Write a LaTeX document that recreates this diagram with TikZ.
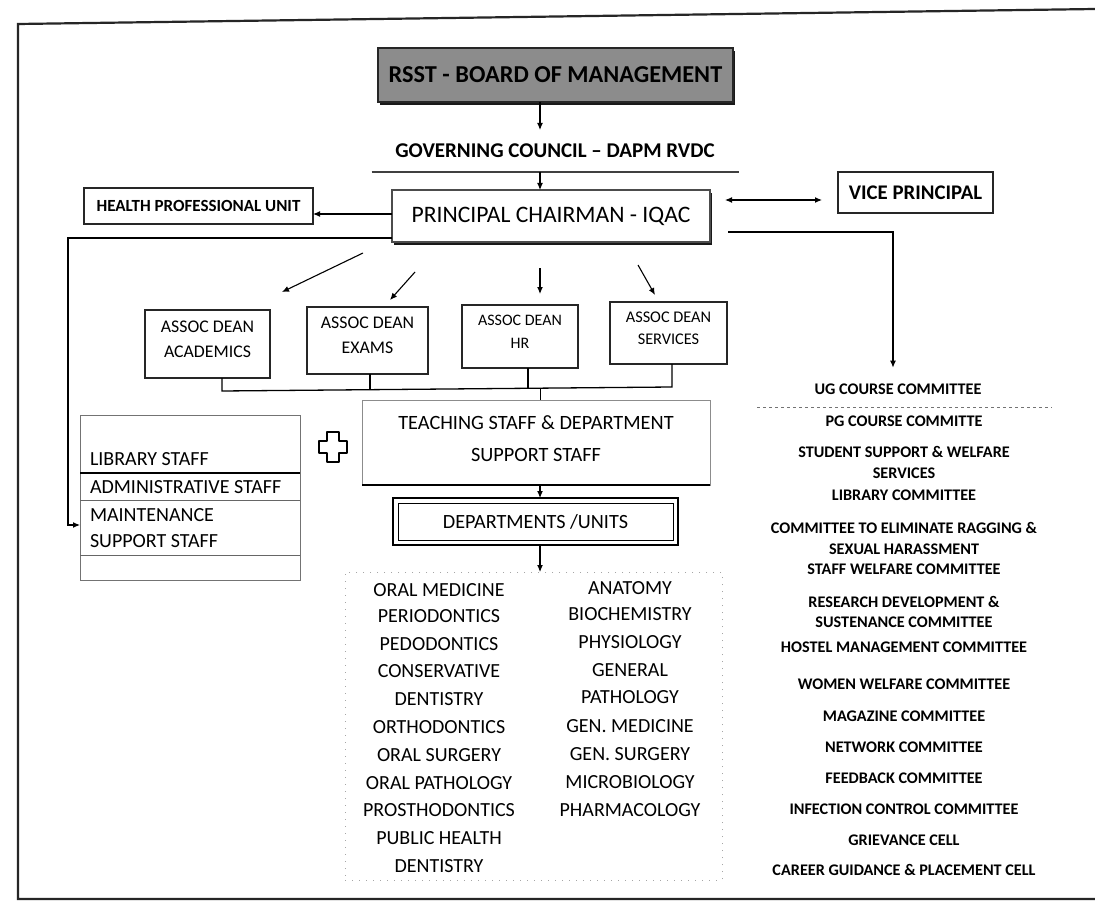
\documentclass[tikz,border=0pt]{standalone}
\usepackage{fontspec}
\setmainfont{Carlito}
\usetikzlibrary{arrows.meta,shadows,calc}
\begin{document}
\begin{tikzpicture}[x=1pt,y=-1pt,
  every node/.style={inner sep=0pt, outer sep=0pt},
  box/.style={draw=black!85, line width=1.3pt, align=center},
  arr/.style={-{Latex[length=7pt,width=6pt]}, line width=1.1pt},
  darr/.style={{Latex[length=7pt,width=6pt]}-{Latex[length=7pt,width=6pt]}, line width=1.1pt},
  busline/.style={line width=1.3pt},
  shad/.style={drop shadow={shadow xshift=2pt,shadow yshift=-3pt,fill=black!90,opacity=1}},
  dean/.style={box, fill=white, text depth=10pt, font=\fontsize{17.8}{25}\selectfont},
  deptitem/.style={font=\fontsize{20}{24}\selectfont},
  staffitem/.style={anchor=west, font=\fontsize{20}{24}\selectfont},
  comitem/.style={font=\bfseries\fontsize{16.2}{19}\selectfont},
]
\useasboundingbox (0,0) rectangle (1095,904);
\fill[white] (0,0) rectangle (1095,904);
\draw[line width=2.2pt, black!85] (1095,9) -- (18,24) -- (18,899) -- (1095,899);

% top
\node[box, fill=black!45, line width=1.5pt, minimum width=355pt, minimum height=54pt, shad,
  font=\bfseries\fontsize{24.3}{26}\selectfont] (rsst) at (555.5,75) {RSST - BOARD OF MANAGEMENT};
\node[minimum width=367pt, minimum height=42pt,
  font=\bfseries\fontsize{21}{24}\selectfont] (gov) at (555,151) {GOVERNING COUNCIL – DAPM RVDC};
\draw[line width=1.2pt, black!75] (gov.south west) -- (gov.south east);
\node[box, draw=black!70, fill=white, minimum width=318pt, minimum height=52pt, shad,
  font=\fontsize{23.6}{26}\selectfont] (prin) at (551,216) {PRINCIPAL CHAIRMAN - IQAC};
\node[box, minimum width=229pt, minimum height=36pt,
  font=\bfseries\fontsize{17}{20}\selectfont] (hpu) at (198.5,206) {HEALTH PROFESSIONAL UNIT};
\node[box, minimum width=155pt, minimum height=41pt,
  font=\bfseries\fontsize{20.8}{24}\selectfont] (vp) at (915.5,192.5) {VICE PRINCIPAL};

\draw[arr] (rsst.south -| 540,0) -- (gov.north -| 540,0);
\draw[arr] (gov.south -| 540,0) -- (prin.north -| 540,0);
\draw[arr] (prin.west |- 0,214) -- (hpu.east |- 0,214);
\draw[darr, shorten <=15pt, shorten >=16pt] (prin.east |- 0,200) -- (vp.west |- 0,200);

% deans
\node[dean, minimum width=125pt, minimum height=68pt] (acad) at (207.5,344) {ASSOC DEAN\\ACADEMICS};
\node[dean, minimum width=121pt, minimum height=67pt] (exams) at (367.5,340.5) {ASSOC DEAN\\EXAMS};
\node[dean, minimum width=116pt, minimum height=63pt, font=\fontsize{16}{23}\selectfont] (hr) at (520,336.5) {ASSOC DEAN\\HR};
\node[dean, minimum width=117pt, minimum height=62pt, font=\fontsize{16.3}{22}\selectfont] (serv) at (668.5,333) {ASSOC DEAN\\SERVICES};

\coordinate (a1s) at (363,253); \coordinate (a1e) at (282,292);
\coordinate (a2s) at (415,272); \coordinate (a2e) at (390,300);
\coordinate (a3s) at (540,268); \coordinate (a3e) at (540,294);
\coordinate (a4s) at (638,265); \coordinate (a4e) at (655,295);
\draw[arr] (a1s) -- (a1e);
\draw[arr] (a2s) -- (a2e);
\draw[arr] (a3s) -- (a3e);
\draw[arr] (a4s) -- (a4e);

% committees
\node[comitem] (ug) at (898,389) {UG COURSE COMMITTEE};
\draw[black!55, dashed, line width=0.6pt] (757,407) -- (1052,407);
\foreach \t/\y [count=\i] in {PG COURSE COMMITTE/421, STUDENT SUPPORT \& WELFARE/452, SERVICES/473,
  LIBRARY COMMITTEE/495, COMMITTEE TO ELIMINATE RAGGING \&/528, SEXUAL HARASSMENT/549,
  STAFF WELFARE COMMITTEE/569, RESEARCH DEVELOPMENT \&/602, SUSTENANCE COMMITTEE/622,
  HOSTEL MANAGEMENT COMMITTEE/647, WOMEN WELFARE COMMITTEE/684, MAGAZINE COMMITTEE/716,
  NETWORK COMMITTEE/747, FEEDBACK COMMITTEE/778, INFECTION CONTROL COMMITTEE/809,
  GRIEVANCE CELL/840, CAREER GUIDANCE \& PLACEMENT CELL/870}
  \node[comitem] (c\i) at (904,\y) {\t};

\draw[arr, shorten <=18pt, shorten >=16pt] (prin.east |- 0,232) -| (ug.north -| 893,0);

% staff box
\node[draw=black!55, line width=0.8pt, minimum width=220pt, minimum height=165pt] (staff) at (190,497.5) {};
\draw[line width=1.6pt] (staff.west |- 0,473) -- (staff.east |- 0,473);
\draw[black!60, line width=0.8pt] (staff.west |- 0,500) -- (staff.east |- 0,500);
\draw[black!60, line width=0.8pt] (staff.west |- 0,555) -- (staff.east |- 0,555);
\node[staffitem] (lib) at (90,459) {LIBRARY STAFF};
\node[staffitem] (adm) at (90,487) {ADMINISTRATIVE STAFF};
\node[staffitem] (mnt) at (90,515) {MAINTENANCE};
\node[staffitem] (sup) at (90,541) {SUPPORT STAFF};
\draw[arr] (prin.west |- 0,238) -- (68,238) |- (staff.west |- 0,525);

% teaching
\node[draw=black!45, line width=0.8pt, minimum width=348pt, minimum height=85pt, align=center, text depth=8pt,
  font=\fontsize{20.3}{32}\selectfont] (teach) at (536,442.5) {TEACHING STAFF \& DEPARTMENT\\SUPPORT STAFF};
\draw[line width=2pt] (teach.south west) -- (teach.south east);

% bus
\draw[busline] (acad.south -| 222,0) -- (222,391) -- (672,387) -- (serv.south -| 672,0);
\draw[busline] (exams.south -| 370,0) -- (370,390);
\draw[busline] (hr.south -| 528,0) -- (528,388);
\draw[line width=1pt] (540,389) -- (teach.north -| 540,0);

% cross
\draw[line width=1.5pt, line join=round] (327,432) -- (339,432) -- (339,441) -- (347,441) -- (347,453)
  -- (339,453) -- (339,462) -- (327,462) -- (327,453) -- (319,453) -- (319,441) -- (327,441) -- cycle;

% departments
\node[draw, line width=2.5pt, minimum width=285pt, minimum height=47pt,
  font=\fontsize{20.2}{24}\selectfont] (dept) at (535.5,521.5) {DEPARTMENTS /UNITS};
\draw[line width=0.8pt] ($(dept.north west)+(5,5)$) rectangle ($(dept.south east)+(-5,-5)$);
\draw[arr] (teach.south -| 540,0) -- (dept.north -| 540,0);

\node[draw=black!35, dash pattern=on 1pt off 6pt, minimum width=377pt, minimum height=308pt] (dlist) at (533.5,726) {};
\draw[arr] (dept.south -| 540,0) -- (dlist.north -| 540,0);

\foreach \t/\y [count=\i] in {ORAL MEDICINE/590, PERIODONTICS/616, PEDODONTICS/644, CONSERVATIVE/671,
  DENTISTRY/699, ORTHODONTICS/727, ORAL SURGERY/755, ORAL PATHOLOGY/783, PROSTHODONTICS/810,
  PUBLIC HEALTH/838, DENTISTRY/866}
  \node[deptitem] (l\i) at (439,\y) {\t};
\foreach \t/\y [count=\i] in {ANATOMY/588, BIOCHEMISTRY/614, PHYSIOLOGY/642, GENERAL/670, PATHOLOGY/697,
  GEN. MEDICINE/726, GEN. SURGERY/754, MICROBIOLOGY/782, PHARMACOLOGY/810}
  \node[deptitem] (r\i) at (630,\y) {\t};
\end{tikzpicture}
\end{document}
